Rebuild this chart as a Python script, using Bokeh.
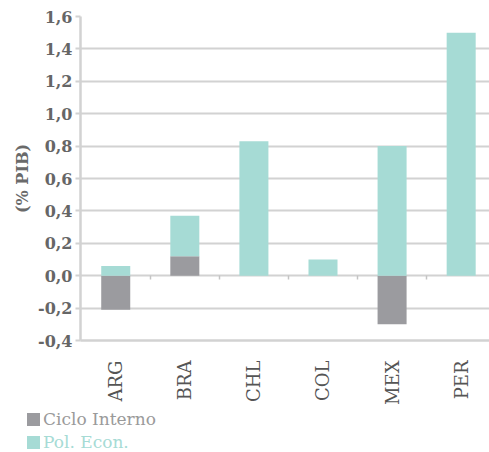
from bokeh.plotting import figure
from bokeh.layouts import column
from bokeh.models import (Range1d, FixedTicker, LinearAxis, ColumnDataSource,
                          CustomJSTickFormatter, Div)
from bokeh.embed import file_html
from bokeh.resources import INLINE

countries = ["ARG", "BRA", "CHL", "COL", "MEX", "PER"]
ciclo_interno = [-0.21, 0.12, 0.0, 0.0, -0.30, 0.0]
pol_econ = [0.06, 0.25, 0.83, 0.10, 0.80, 1.50]
y_ticks = [-0.4, -0.2, 0.0, 0.2, 0.4, 0.6, 0.8, 1.0, 1.2, 1.4, 1.6]
series_names = ["Ciclo Interno", "Pol. Econ."]

GRAY = "#9b9b9f"
TEAL = "#a6dbd5"
GRID = "#d2d2d2"
SERIF = "DejaVu Serif"

xs = [i + 0.5 for i in range(len(countries))]
bounds = [i for i in range(1, len(countries))]
pol_bottom = [max(c, 0.0) for c in ciclo_interno]
pol_top = [b + v for b, v in zip(pol_bottom, pol_econ)]
src = ColumnDataSource(dict(x=xs, ciclo=ciclo_interno, pb=pol_bottom, pt=pol_top))

p = figure(frame_width=409, frame_height=324, output_backend="svg", toolbar_location=None,
           x_range=Range1d(-0.01, 5.91), y_range=Range1d(-0.4, 1.6),
           min_border_left=80, min_border_right=0, min_border_top=16, min_border_bottom=0,
           x_axis_location=None, y_axis_location=None)
p.outline_line_color = None
p.background_fill_color = "white"
p.border_fill_color = "white"

p.vbar(x="x", width=0.42, bottom=0, top="ciclo", source=src, color=GRAY, line_color=None)
p.vbar(x="x", width=0.42, bottom="pb", top="pt", source=src, color=TEAL, line_color=None)

# y axis
yax = LinearAxis(ticker=FixedTicker(ticks=y_ticks, minor_ticks=[]))
yax.formatter = CustomJSTickFormatter(code="return tick.toFixed(1).replace('.', ',');")
yax.axis_line_color = GRID
yax.axis_line_width = 2.5
yax.major_tick_line_color = GRID
yax.major_tick_line_width = 2
yax.major_tick_out = 5
yax.major_tick_in = 0
yax.major_label_text_font = SERIF
yax.major_label_text_font_style = "bold"
yax.major_label_text_font_size = "16px"
yax.major_label_text_color = "#666666"
yax.major_label_standoff = 3
yax.axis_label = "(% PIB)"
yax.axis_label_text_font = SERIF
yax.axis_label_text_font_style = "bold"
yax.axis_label_text_font_size = "16px"
yax.axis_label_text_color = "#6a6a6a"
yax.axis_label_standoff = 3
p.add_layout(yax, "left")

p.ygrid.ticker = FixedTicker(ticks=y_ticks)
p.ygrid.grid_line_color = GRID
p.ygrid.grid_line_width = 2
p.xgrid.grid_line_color = None

# tick marks on the zero line between categories
zax = LinearAxis(ticker=FixedTicker(ticks=bounds, minor_ticks=[]), fixed_location=0)
zax.axis_line_color = None
zax.major_tick_line_color = "#c4c4c4"
zax.major_tick_line_width = 1.5
zax.major_tick_out = 0
zax.major_tick_in = 4
zax.major_label_overrides = {b: "" for b in bounds}
zax.major_label_text_font_size = "1px"
zax.major_label_standoff = 0
p.add_layout(zax, "above")

# category label axis at bottom
xax = LinearAxis(ticker=FixedTicker(ticks=xs, minor_ticks=[]))
xax.major_label_overrides = {x: c for x, c in zip(xs, countries)}
xax.axis_line_color = GRID
xax.axis_line_width = 2.5
xax.major_tick_line_color = None
xax.major_tick_out = 0
xax.major_tick_in = 0
xax.major_label_orientation = 1.5708
xax.major_label_text_font = SERIF
xax.major_label_text_font_size = "18px"
xax.major_label_text_color = "#555555"
xax.major_label_standoff = 20
p.add_layout(xax, "below")

# legend (HTML text)
def item(name, swatch, txt):
    return ('<div style="height:23px;line-height:23px;white-space:nowrap;'
            'font-family:DejaVu Serif,serif;font-size:17px">'
            f'<span style="display:inline-block;width:13px;height:13px;background:{swatch};'
            'margin-right:3px;vertical-align:-1px"></span>'
            f'<span style="color:{txt};font-family:DejaVu Serif,serif">{name}</span></div>')

legend_html = (item(series_names[0], GRAY, "#9a9a9a")
               + item(series_names[1], TEAL, TEAL))
leg = Div(text=legend_html, width=462, height=48, margin=(0, 0, 0, 27),
          styles={"font-family": "DejaVu Serif, serif", "font-size": "17px",
                  "padding-top": "1px"})

layout = column(p, leg, spacing=0)
open("out.html", "w").write(file_html(layout, INLINE))
